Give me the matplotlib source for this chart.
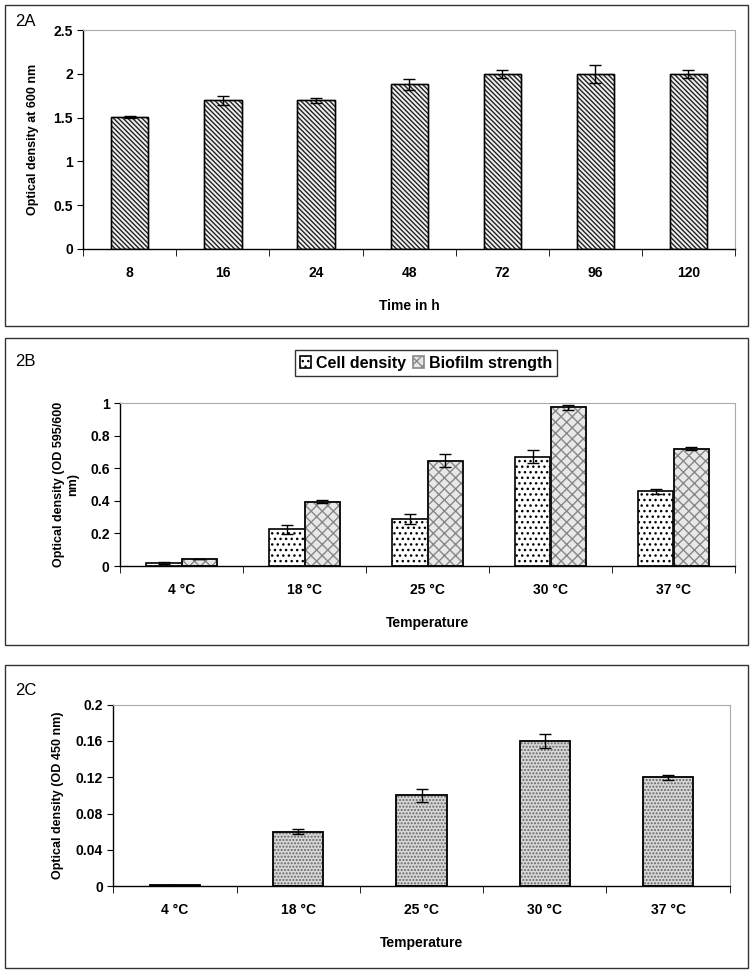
import numpy as np
from matplotlib import pyplot as plt
from matplotlib.patches import Rectangle

plt.rcParams['font.family'] = ['Liberation Sans', 'DejaVu Sans']
plt.rcParams['font.weight'] = 'bold'
plt.rcParams['axes.labelweight'] = 'bold'
plt.rcParams['hatch.linewidth'] = 1.0

# data for panel 2A
hours = ['8', '16', '24', '48', '72', '96', '120']
od600 = [1.51, 1.70, 1.70, 1.88, 2.00, 2.00, 2.00]
od600_err = [0.01, 0.05, 0.03, 0.06, 0.05, 0.10, 0.05]

# data for panel 2B
temps = ['4 °C', '18 °C', '25 °C', '30 °C', '37 °C']
cell_density = [0.02, 0.225, 0.29, 0.67, 0.46]
cell_err = [0.005, 0.03, 0.03, 0.04, 0.015]
biofilm = [0.045, 0.395, 0.645, 0.975, 0.72]
biofilm_err = [0.0, 0.01, 0.04, 0.015, 0.01]

# data for panel 2C
od450 = [0.001, 0.06, 0.10, 0.16, 0.12]
od450_err = [0.0005, 0.003, 0.007, 0.008, 0.003]

fig = plt.figure(figsize=(7.5, 9.76), dpi=100)

# panel frames
for y0, y1 in [(5, 326), (338, 645), (665, 968)]:
    fig.patches.append(Rectangle((5 / 750, 1 - y1 / 976), 743 / 750, (y1 - y0) / 976,
                                 transform=fig.transFigure, fill=False,
                                 edgecolor='#333333', linewidth=1.0))


def style_axes(ax, n):
    ax.spines['top'].set_color('#aaaaaa')
    ax.spines['right'].set_color('#aaaaaa')
    ax.spines['left'].set_linewidth(1.0)
    ax.spines['bottom'].set_linewidth(1.0)
    ax.set_xlim(-0.5, n - 0.5)
    ax.set_xticks(np.arange(n + 1) - 0.5, minor=True)
    ax.tick_params(axis='x', which='major', length=0, pad=12, labelsize=10)
    ax.tick_params(axis='x', which='minor', length=5, direction='out')
    ax.tick_params(axis='y', length=4, direction='out', labelsize=10)


# ---- 2A ----
ax1 = fig.add_axes([0.111, 0.745, 0.869, 0.224])
x = np.arange(len(hours))
ax1.bar(x, od600, width=0.4, color='#f0f0f0', edgecolor='#222222', hatch='\\\\\\\\\\\\\\',
        linewidth=1.0, yerr=od600_err, capsize=4, error_kw=dict(elinewidth=1, capthick=1))
ax1.bar(x, od600, width=0.4, color='none', edgecolor='black', linewidth=1.0)
ax1.set_ylim(0, 2.5)
ax1.set_yticks([0, 0.5, 1, 1.5, 2, 2.5])
ax1.set_yticklabels(['0', '0.5', '1', '1.5', '2', '2.5'])
ax1.set_xticks(x)
ax1.set_xticklabels(hours)
style_axes(ax1, len(hours))
ax1.set_ylabel('Optical density at 600 nm', fontsize=9, labelpad=10)
ax1.set_xlabel('Time in h', fontsize=10, labelpad=14)
fig.text(15 / 750, 1 - 26 / 976, '2A', fontsize=12, fontweight='normal')

# ---- 2B ----
ax2 = fig.add_axes([0.16, 0.420, 0.82, 0.167])
x = np.arange(len(temps))
w = 0.29
ax2.bar(x - w / 2, cell_density, width=w, color='white', edgecolor='black', hatch='...',
        linewidth=1.2, yerr=cell_err, capsize=4, error_kw=dict(elinewidth=1, capthick=1),
        label='Cell density')
ax2.bar(x + w / 2, biofilm, width=w, color='#e8e8e8', edgecolor='black', hatch='xxx',
        linewidth=1.2, yerr=biofilm_err, capsize=4, error_kw=dict(elinewidth=1, capthick=1),
        label='Biofilm strength')
for p in ax2.patches[len(temps):]:
    p.set_edgecolor('#888888')
ax2.bar(x + w / 2, biofilm, width=w, color='none', edgecolor='black', linewidth=1.2)
ax2.set_ylim(0, 1)
ax2.set_yticks([0, 0.2, 0.4, 0.6, 0.8, 1])
ax2.set_yticklabels(['0', '0.2', '0.4', '0.6', '0.8', '1'])
ax2.set_xticks(x)
ax2.set_xticklabels(temps)
style_axes(ax2, len(temps))
ax2.set_ylabel('Optical density (OD 595/600\nnm)', fontsize=9, labelpad=8)
ax2.set_xlabel('Temperature', fontsize=10, labelpad=14)
ax2.legend(loc='upper center', bbox_to_anchor=(426 / 750, 1 - 342 / 976),
           bbox_transform=fig.transFigure, ncol=2, frameon=True,
           fancybox=False, edgecolor='black', fontsize=11.5, handlelength=0.7,
           handleheight=0.7, handletextpad=0.3, columnspacing=0.4, borderpad=0.35)
fig.text(15 / 750, 1 - 366 / 976, '2B', fontsize=12, fontweight='normal')

# ---- 2C ----
ax3 = fig.add_axes([0.151, 0.092, 0.822, 0.186])
ax3.bar(x, od450, width=0.41, color='#d8d8d8', edgecolor='#666666', hatch='.....',
        linewidth=1.2, yerr=od450_err, capsize=4, error_kw=dict(elinewidth=1, capthick=1))
ax3.bar(x, od450, width=0.41, color='none', edgecolor='black', linewidth=1.2)
ax3.set_ylim(0, 0.2)
ax3.set_yticks([0, 0.04, 0.08, 0.12, 0.16, 0.2])
ax3.set_yticklabels(['0', '0.04', '0.08', '0.12', '0.16', '0.2'])
ax3.set_xticks(x)
ax3.set_xticklabels(temps)
style_axes(ax3, len(temps))
ax3.set_ylabel('Optical density (OD 450 nm)', fontsize=9, labelpad=8)
ax3.set_xlabel('Temperature', fontsize=10, labelpad=14)
fig.text(15 / 750, 1 - 695 / 976, '2C', fontsize=12, fontweight='normal')

plt.savefig('out.png', dpi=100)
